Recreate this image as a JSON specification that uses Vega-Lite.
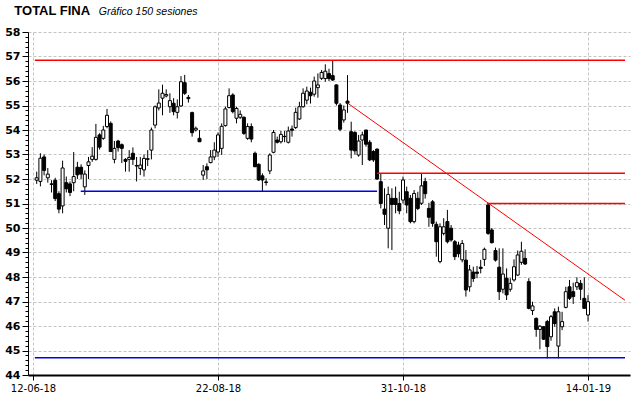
{
  "$schema": "https://vega.github.io/schema/vega-lite/v6.json",
  "width": 602,
  "height": 343,
  "autosize": {"type": "none"},
  "padding": {"left": 28, "top": 32, "right": 10, "bottom": 23},
  "background": "white",
  "config": {"view": {"stroke": null}},
  "datasets": {
    "candles": [
      {"i":1,"o":51.95,"h":52.3,"l":51.8,"c":52.05},
      {"i":2,"o":51.9,"h":53.05,"l":51.7,"c":52.85},
      {"i":3,"o":52.9,"h":53.0,"l":52.15,"c":52.35},
      {"i":4,"o":52.05,"h":52.45,"l":51.85,"c":52.2},
      {"i":5,"o":51.8,"h":51.95,"l":51.45,"c":51.78},
      {"i":6,"o":51.95,"h":52.05,"l":51.1,"c":51.2},
      {"i":7,"o":51.4,"h":51.5,"l":50.6,"c":50.77},
      {"i":8,"o":50.9,"h":52.75,"l":50.6,"c":52.45},
      {"i":9,"o":51.85,"h":52.1,"l":51.45,"c":51.6},
      {"i":10,"o":51.8,"h":51.9,"l":51.3,"c":51.45},
      {"i":11,"o":51.85,"h":53.1,"l":51.5,"c":52.1},
      {"i":12,"o":52.48,"h":52.7,"l":52.0,"c":52.17},
      {"i":13,"o":52.48,"h":52.6,"l":52.0,"c":52.2},
      {"i":14,"o":51.68,"h":52.35,"l":51.35,"c":52.2},
      {"i":15,"o":52.55,"h":52.9,"l":52.0,"c":52.7},
      {"i":16,"o":52.8,"h":53.3,"l":52.7,"c":52.93},
      {"i":17,"o":52.8,"h":54.25,"l":52.75,"c":53.7},
      {"i":18,"o":53.8,"h":53.87,"l":53.2,"c":53.3},
      {"i":19,"o":53.66,"h":54.17,"l":53.6,"c":54.0},
      {"i":20,"o":54.14,"h":54.86,"l":54.07,"c":54.6},
      {"i":21,"o":54.27,"h":54.35,"l":53.1,"c":53.12},
      {"i":22,"o":52.8,"h":53.55,"l":52.64,"c":53.25},
      {"i":23,"o":53.55,"h":53.6,"l":53.12,"c":53.28},
      {"i":24,"o":53.4,"h":53.45,"l":52.65,"c":53.25},
      {"i":25,"o":52.8,"h":52.85,"l":52.3,"c":52.72},
      {"i":26,"o":52.8,"h":53.18,"l":52.3,"c":52.88},
      {"i":27,"o":53.05,"h":53.29,"l":52.57,"c":52.8},
      {"i":28,"o":52.55,"h":52.9,"l":51.9,"c":52.53},
      {"i":29,"o":52.43,"h":52.9,"l":52.16,"c":52.57},
      {"i":30,"o":52.37,"h":53.0,"l":52.1,"c":52.84},
      {"i":31,"o":52.8,"h":53.18,"l":52.53,"c":52.83},
      {"i":32,"o":53.18,"h":54.1,"l":52.8,"c":54.0},
      {"i":33,"o":54.2,"h":55.0,"l":54.07,"c":54.95},
      {"i":34,"o":54.9,"h":55.66,"l":54.8,"c":55.1},
      {"i":35,"o":55.3,"h":55.85,"l":54.6,"c":55.5},
      {"i":36,"o":55.39,"h":55.66,"l":55.33,"c":55.45},
      {"i":37,"o":54.95,"h":55.5,"l":54.7,"c":55.2},
      {"i":38,"o":55.09,"h":55.3,"l":54.6,"c":54.75},
      {"i":39,"o":54.72,"h":55.25,"l":54.47,"c":54.95},
      {"i":40,"o":54.98,"h":56.2,"l":54.95,"c":55.97},
      {"i":41,"o":55.93,"h":56.25,"l":55.43,"c":55.5},
      {"i":42,"o":55.33,"h":55.43,"l":55.12,"c":55.28},
      {"i":43,"o":54.71,"h":54.75,"l":53.73,"c":53.89},
      {"i":44,"o":54.0,"h":54.14,"l":53.94,"c":54.07},
      {"i":45,"o":53.66,"h":54.0,"l":53.52,"c":53.52},
      {"i":46,"o":52.16,"h":52.57,"l":51.96,"c":52.33},
      {"i":47,"o":52.5,"h":52.64,"l":51.99,"c":52.37},
      {"i":48,"o":52.67,"h":53.18,"l":52.64,"c":52.9},
      {"i":49,"o":52.9,"h":53.5,"l":52.77,"c":53.18},
      {"i":50,"o":53.1,"h":53.9,"l":52.9,"c":53.8},
      {"i":51,"o":53.25,"h":54.27,"l":52.98,"c":54.15},
      {"i":52,"o":54.18,"h":54.95,"l":54.14,"c":54.86},
      {"i":53,"o":54.92,"h":55.7,"l":54.88,"c":55.4},
      {"i":54,"o":55.43,"h":55.5,"l":54.68,"c":54.75},
      {"i":55,"o":54.48,"h":54.95,"l":54.27,"c":54.88},
      {"i":56,"o":54.52,"h":54.8,"l":54.45,"c":54.64},
      {"i":57,"o":54.52,"h":54.55,"l":53.8,"c":53.86},
      {"i":58,"o":53.66,"h":54.27,"l":53.6,"c":54.14},
      {"i":59,"o":54.14,"h":54.27,"l":53.5,"c":53.63},
      {"i":60,"o":53.05,"h":53.12,"l":52.5,"c":52.5},
      {"i":61,"o":52.6,"h":52.64,"l":51.92,"c":51.96},
      {"i":62,"o":52.13,"h":52.23,"l":51.5,"c":51.96},
      {"i":63,"o":51.88,"h":52.03,"l":51.73,"c":51.86},
      {"i":64,"o":52.33,"h":53.05,"l":52.2,"c":52.98},
      {"i":65,"o":53.09,"h":54.0,"l":53.05,"c":53.9},
      {"i":66,"o":53.59,"h":53.73,"l":53.45,"c":53.5},
      {"i":67,"o":53.52,"h":53.96,"l":53.45,"c":53.82},
      {"i":68,"o":53.73,"h":53.96,"l":53.5,"c":53.74},
      {"i":69,"o":53.5,"h":54.14,"l":53.45,"c":53.96},
      {"i":70,"o":54.04,"h":54.18,"l":53.73,"c":53.99},
      {"i":71,"o":54.1,"h":54.91,"l":54.04,"c":54.72},
      {"i":72,"o":54.45,"h":55.15,"l":54.41,"c":54.95},
      {"i":73,"o":54.95,"h":55.7,"l":54.91,"c":55.5},
      {"i":74,"o":55.22,"h":55.77,"l":55.05,"c":55.59},
      {"i":75,"o":55.54,"h":55.73,"l":55.08,"c":55.4},
      {"i":76,"o":55.46,"h":56.18,"l":55.36,"c":56.0},
      {"i":77,"o":55.73,"h":56.31,"l":55.32,"c":55.84},
      {"i":78,"o":56.11,"h":56.45,"l":56.04,"c":56.35},
      {"i":79,"o":56.1,"h":56.68,"l":55.97,"c":56.4},
      {"i":80,"o":56.3,"h":56.5,"l":56.0,"c":56.1},
      {"i":81,"o":56.22,"h":56.82,"l":56.0,"c":56.04},
      {"i":82,"o":55.84,"h":55.86,"l":55.0,"c":55.09},
      {"i":83,"o":55.02,"h":55.1,"l":53.95,"c":54.03},
      {"i":84,"o":54.41,"h":55.0,"l":54.3,"c":54.82},
      {"i":85,"o":55.18,"h":56.24,"l":54.7,"c":55.09},
      {"i":86,"o":53.93,"h":54.34,"l":52.84,"c":53.18},
      {"i":87,"o":53.9,"h":53.95,"l":53.0,"c":53.15},
      {"i":88,"o":52.98,"h":53.8,"l":52.91,"c":53.55},
      {"i":89,"o":53.59,"h":53.93,"l":52.57,"c":53.8},
      {"i":90,"o":54.0,"h":54.0,"l":53.32,"c":53.42},
      {"i":91,"o":53.5,"h":53.59,"l":52.73,"c":52.78},
      {"i":92,"o":53.12,"h":53.18,"l":52.7,"c":52.78},
      {"i":93,"o":53.22,"h":53.25,"l":51.96,"c":52.0},
      {"i":94,"o":51.89,"h":52.23,"l":50.8,"c":51.0},
      {"i":95,"o":50.77,"h":51.62,"l":50.12,"c":50.56},
      {"i":96,"o":49.99,"h":51.69,"l":49.17,"c":51.37},
      {"i":97,"o":51.21,"h":51.62,"l":49.1,"c":50.96},
      {"i":98,"o":51.21,"h":51.69,"l":50.6,"c":50.96},
      {"i":99,"o":51.0,"h":51.48,"l":50.56,"c":50.7},
      {"i":100,"o":51.14,"h":52.1,"l":51.0,"c":51.96},
      {"i":101,"o":51.48,"h":51.69,"l":50.6,"c":50.94},
      {"i":102,"o":51.21,"h":51.35,"l":50.19,"c":50.26},
      {"i":103,"o":50.26,"h":51.55,"l":50.19,"c":51.41},
      {"i":104,"o":51.21,"h":51.48,"l":50.73,"c":50.8},
      {"i":105,"o":51.01,"h":52.23,"l":50.94,"c":51.72},
      {"i":106,"o":51.9,"h":52.05,"l":51.2,"c":51.4},
      {"i":107,"o":50.8,"h":51.03,"l":50.05,"c":50.44},
      {"i":108,"o":51.07,"h":51.14,"l":50.05,"c":50.19},
      {"i":109,"o":50.15,"h":50.26,"l":48.83,"c":49.44},
      {"i":110,"o":48.63,"h":50.19,"l":48.56,"c":50.05},
      {"i":111,"o":49.78,"h":50.4,"l":49.7,"c":50.05},
      {"i":112,"o":50.26,"h":50.74,"l":49.37,"c":49.44},
      {"i":113,"o":49.99,"h":50.12,"l":49.44,"c":49.51},
      {"i":114,"o":49.44,"h":49.51,"l":48.69,"c":48.83},
      {"i":115,"o":49.3,"h":49.44,"l":48.8,"c":48.95},
      {"i":116,"o":48.7,"h":49.51,"l":48.6,"c":49.37},
      {"i":117,"o":48.69,"h":49.1,"l":47.2,"c":47.47},
      {"i":118,"o":47.6,"h":48.49,"l":47.4,"c":48.29},
      {"i":119,"o":48.2,"h":48.42,"l":47.8,"c":47.94},
      {"i":120,"o":48.2,"h":48.45,"l":47.95,"c":48.15},
      {"i":121,"o":48.4,"h":48.7,"l":48.15,"c":48.35},
      {"i":122,"o":48.72,"h":49.2,"l":48.45,"c":49.13},
      {"i":123,"o":50.94,"h":51.0,"l":49.72,"c":49.78},
      {"i":124,"o":49.92,"h":50.0,"l":49.37,"c":49.4},
      {"i":125,"o":49.08,"h":49.2,"l":48.63,"c":48.69},
      {"i":126,"o":48.4,"h":49.17,"l":47.06,"c":47.4},
      {"i":127,"o":47.5,"h":49.17,"l":47.33,"c":48.12},
      {"i":128,"o":47.95,"h":48.35,"l":47.06,"c":47.27},
      {"i":129,"o":47.5,"h":47.95,"l":47.4,"c":47.74},
      {"i":130,"o":47.88,"h":48.72,"l":47.81,"c":48.42},
      {"i":131,"o":48.08,"h":49.08,"l":48.04,"c":48.9},
      {"i":132,"o":48.6,"h":49.44,"l":48.5,"c":49.05},
      {"i":133,"o":48.76,"h":49.13,"l":48.49,"c":48.53},
      {"i":134,"o":47.81,"h":47.95,"l":46.68,"c":46.72},
      {"i":135,"o":46.63,"h":46.99,"l":46.45,"c":46.82},
      {"i":136,"o":46.31,"h":46.35,"l":45.56,"c":45.86},
      {"i":137,"o":45.86,"h":46.04,"l":45.05,"c":45.99},
      {"i":138,"o":45.97,"h":46.0,"l":45.43,"c":45.46},
      {"i":139,"o":46.18,"h":46.25,"l":44.68,"c":45.16},
      {"i":140,"o":45.56,"h":46.45,"l":45.4,"c":46.38},
      {"i":141,"o":46.58,"h":46.72,"l":45.97,"c":46.1},
      {"i":142,"o":45.18,"h":46.79,"l":44.68,"c":46.58},
      {"i":143,"o":45.97,"h":46.58,"l":45.83,"c":46.18},
      {"i":144,"o":46.76,"h":47.6,"l":46.72,"c":47.4},
      {"i":145,"o":47.6,"h":47.88,"l":47.06,"c":47.13},
      {"i":146,"o":47.4,"h":47.77,"l":46.9,"c":47.2},
      {"i":147,"o":47.6,"h":47.99,"l":47.47,"c":47.77},
      {"i":148,"o":47.74,"h":47.88,"l":47.06,"c":47.5},
      {"i":149,"o":47.13,"h":47.99,"l":46.72,"c":46.72},
      {"i":150,"o":46.45,"h":47.26,"l":46.18,"c":46.99}
    ],
    "lines": [
      {"x1":0.5,"x2":160,"y1":56.85,"y2":56.85,"kind":"resistencia"},
      {"x1":0.5,"x2":160,"y1":44.7,"y2":44.7,"kind":"soporte"},
      {"x1":12.9,"x2":93,"y1":51.5,"y2":51.5,"kind":"soporte"},
      {"x1":93,"x2":160,"y1":52.23,"y2":52.23,"kind":"resistencia"},
      {"x1":122.7,"x2":160,"y1":51.0,"y2":51.0,"kind":"resistencia"},
      {"x1":85,"x2":160,"y1":55.1,"y2":47.05,"kind":"tendencia"}
    ],
    "labels": [
      {"texto":"TOTAL FINA","tipo":"titulo"},
      {"texto":"Gráfico 150 sesiones","tipo":"subtitulo"}
    ]
  },
  "layer": [
    {
      "data": {"name": "candles"},
      "mark": {"type": "rule", "color": "#000000", "strokeWidth": 1},
      "encoding": {
        "x": {
          "field": "i", "type": "quantitative",
          "scale": {"domain": [0, 160], "nice": false, "zero": false},
          "axis": {
            "values": [0, 50, 100, 150],
            "tickCount": 200,
            "labelExpr": "datum.value == 0 ? '12-06-18' : datum.value == 50 ? '22-08-18' : datum.value == 100 ? '31-10-18' : '14-01-19'",
            "title": null,
            "grid": true, "gridColor": "#c4c4c4", "gridDash": [3, 2], "gridWidth": 1,
            "domainColor": "#000000", "domainWidth": 2,
            "tickColor": "#000000", "tickSize": 5, "tickWidth": 1,
            "labelFont": "DejaVu Sans", "labelFontSize": 10, "labelColor": "#000000",
            "labelPadding": 3, "labelFlush": false, "labelOverlap": false
          }
        },
        "y": {
          "field": "l", "type": "quantitative",
          "scale": {"domain": [44, 58], "nice": false, "zero": false},
          "axis": {
            "values": [44,44.2,44.4,44.6,44.8,45,45.2,45.4,45.6,45.8,46,46.2,46.4,46.6,46.8,47,47.2,47.4,47.6,47.8,48,48.2,48.4,48.6,48.8,49,49.2,49.4,49.6,49.8,50,50.2,50.4,50.6,50.8,51,51.2,51.4,51.6,51.8,52,52.2,52.4,52.6,52.8,53,53.2,53.4,53.6,53.8,54,54.2,54.4,54.6,54.8,55,55.2,55.4,55.6,55.8,56,56.2,56.4,56.6,56.8,57,57.2,57.4,57.6,57.8,58],
            "tickCount": 200,
            "labelExpr": "datum.value % 1 == 0 ? format(datum.value, 'd') : ''",
            "labelOverlap": false,
            "title": null,
            "grid": true, "gridColor": "#c4c4c4", "gridDash": [3, 2], "gridWidth": 1,
            "gridOpacity": {"condition": {"test": "datum.value % 1 == 0", "value": 1}, "value": 0},
            "domainColor": "#000000", "domainWidth": 1,
            "tickColor": "#000000", "tickWidth": 1,
            "tickSize": {"condition": {"test": "datum.value % 1 == 0", "value": 6}, "value": 3},
            "labelFont": "DejaVu Sans", "labelFontSize": 11, "labelFontWeight": "bold", "labelColor": "#000000",
            "labelPadding": 2
          }
        },
        "y2": {"field": "h"}
      }
    },
    {
      "data": {"name": "candles"},
      "mark": {"type": "bar", "size": 3, "stroke": "#000000", "strokeWidth": 1},
      "encoding": {
        "x": {"field": "i", "type": "quantitative"},
        "y": {"field": "o", "type": "quantitative"},
        "y2": {"field": "c"},
        "fill": {"condition": {"test": "datum.c >= datum.o", "value": "#ffffff"}, "value": "#000000"}
      }
    },
    {
      "data": {"name": "lines"},
      "transform": [{"filter": "datum.kind != 'tendencia'"}],
      "mark": {"type": "rule", "strokeWidth": 1.5},
      "encoding": {
        "x": {"field": "x1", "type": "quantitative"},
        "x2": {"field": "x2"},
        "y": {"field": "y1", "type": "quantitative"},
        "y2": {"field": "y2"},
        "color": {"field": "kind", "type": "nominal", "scale": {"domain": ["resistencia", "soporte"], "range": ["#ff0000", "#0000ee"]}, "legend": null}
      }
    },
    {
      "data": {"name": "lines"},
      "transform": [{"filter": "datum.kind == 'tendencia'"}],
      "mark": {"type": "rule", "strokeWidth": 1, "color": "#ff0000"},
      "encoding": {
        "x": {"field": "x1", "type": "quantitative"},
        "x2": {"field": "x2"},
        "y": {"field": "y1", "type": "quantitative"},
        "y2": {"field": "y2"}
      }
    },
    {
      "data": {"name": "labels"},
      "transform": [{"filter": "datum.tipo == 'titulo'"}],
      "mark": {"type": "text", "align": "left", "baseline": "alphabetic", "font": "Liberation Sans", "fontSize": 13, "fontWeight": "bold", "color": "#000000"},
      "encoding": {
        "x": {"datum": -5.05, "type": "quantitative"},
        "y": {"datum": 58.69, "type": "quantitative"},
        "text": {"field": "texto"}
      }
    },
    {
      "data": {"name": "labels"},
      "transform": [{"filter": "datum.tipo == 'subtitulo'"}],
      "mark": {"type": "text", "align": "left", "baseline": "alphabetic", "font": "Liberation Sans", "fontSize": 10.5, "fontStyle": "italic", "color": "#000000"},
      "encoding": {
        "x": {"datum": 17.8, "type": "quantitative"},
        "y": {"datum": 58.69, "type": "quantitative"},
        "text": {"field": "texto"}
      }
    }
  ]
}
